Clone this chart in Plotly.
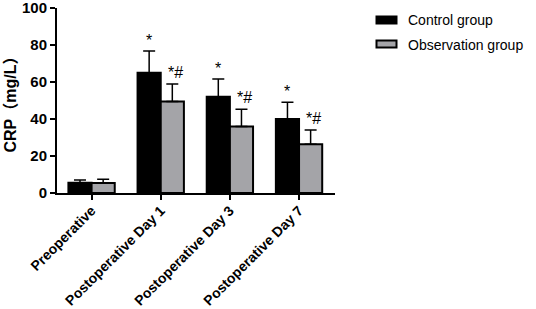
import plotly.graph_objects as go

categories = ["Preoperative", "Postoperative Day 1", "Postoperative Day 3", "Postoperative Day 7"]
control_mean = [5.5, 65.0, 52.0, 40.0]
control_sd = [1.5, 11.8, 9.6, 9.0]
obs_mean = [5.4, 49.4, 35.9, 26.4]
obs_sd = [2.0, 9.5, 9.4, 7.6]
control_marks = ["", "*", "*", "*"]
obs_marks = ["", "*#", "*#", "*#"]
y_ticks = [0, 20, 40, 60, 80, 100]

FONT = "Arial, Liberation Sans, Noto Sans CJK SC, sans-serif"
GRAY = "#a4a4a8"
xpos = list(range(len(categories)))

fig = go.Figure()
fig.add_trace(go.Bar(
    x=xpos, y=control_mean, name="Control group",
    marker=dict(color="black", line=dict(color="black", width=2)),
    error_y=dict(type="data", symmetric=False, array=control_sd,
                 arrayminus=[0] * len(control_sd), color="black", thickness=1.5, width=6),
))
fig.add_trace(go.Bar(
    x=xpos, y=obs_mean, name="Observation group",
    marker=dict(color=GRAY, line=dict(color="black", width=2)),
    error_y=dict(type="data", symmetric=False, array=obs_sd,
                 arrayminus=[0] * len(obs_sd), color="black", thickness=1.5, width=6),
))

bargap = 0.33
half = (1 - bargap) / 4
for i in xpos:
    if control_marks[i]:
        fig.add_annotation(x=i - half, y=control_mean[i] + control_sd[i], text=control_marks[i],
                           showarrow=False, yanchor="bottom", yshift=0,
                           font=dict(family=FONT, size=16, color="black"))
    if obs_marks[i]:
        fig.add_annotation(x=i + half, y=obs_mean[i] + obs_sd[i], text=obs_marks[i],
                           showarrow=False, yanchor="bottom", yshift=1, xshift=3,
                           font=dict(family=FONT, size=16, color="black"))

# custom legend
T, B = 8, 116
W, H = 278.0, 309.0 - T - B
def px_x(px):
    return (px - 57) / W
def px_y(py):
    return (309 - B - py) / H

legend_items = [("Control group", "black", 16.5, 23.5, 20.5),
                ("Observation group", GRAY, 40.5, 47.5, 45)]
for label, col, y0, y1, yc in legend_items:
    fig.add_shape(type="rect", xref="paper", yref="paper",
                  x0=px_x(376.5), x1=px_x(396.5), y0=px_y(y1), y1=px_y(y0),
                  fillcolor=col, line=dict(color="black", width=2))
    fig.add_annotation(xref="paper", yref="paper", x=px_x(406), y=px_y(yc), text=label,
                       showarrow=False, xanchor="left", yanchor="middle",
                       font=dict(family=FONT, size=14, color="black"))

fig.update_layout(
    width=536, height=309,
    margin=dict(l=57, r=201, t=T, b=B, autoexpand=False),
    paper_bgcolor="white", plot_bgcolor="white",
    barmode="group", bargap=bargap, bargroupgap=0,
    showlegend=False,
    font=dict(family=FONT, color="black"),
)
fig.update_xaxes(
    range=[-0.5, 3.52], tickmode="array", tickvals=xpos, ticktext=categories,
    tickangle=-45, showline=True, linecolor="black", linewidth=2,
    ticks="outside", ticklen=5, tickwidth=2, tickcolor="black",
    showgrid=False, zeroline=False, automargin=False, ticklabelstandoff=-3,
    tickfont=dict(family=FONT, size=14, color="black", weight="bold"),
)
fig.update_yaxes(
    range=[0, 100], tickmode="array", tickvals=y_ticks,
    showline=True, linecolor="black", linewidth=2,
    ticks="outside", ticklen=5, tickwidth=2, tickcolor="black",
    showgrid=False, zeroline=False, automargin=False, ticklabeloverflow="allow",
    tickfont=dict(family=FONT, size=15, color="black", weight="bold"),
    title=dict(text="CRP（mg/L）", standoff=1,
               font=dict(family=FONT, size=16, color="black", weight="bold")),
)

fig.write_html("out.html", config={"displayModeBar": False},
               post_script="document.body.style.margin='0';document.body.style.padding='0';")
